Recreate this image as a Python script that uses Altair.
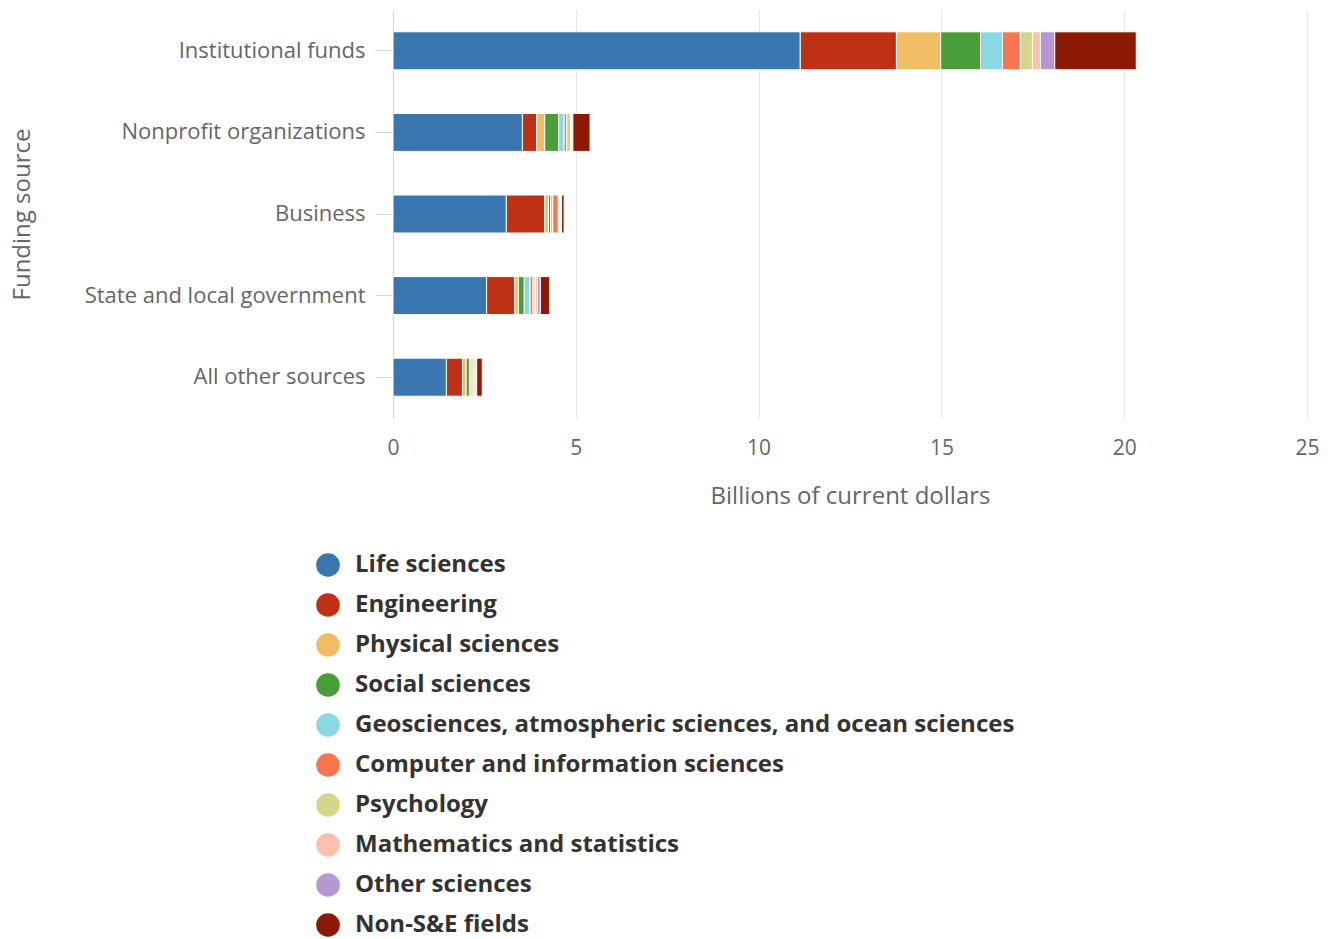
import altair as alt
import pandas as pd

sources = ["Institutional funds", "Nonprofit organizations", "Business",
           "State and local government", "All other sources"]
fields = ["Life sciences", "Engineering", "Physical sciences", "Social sciences",
          "Geosciences, atmospheric sciences, and ocean sciences",
          "Computer and information sciences", "Psychology",
          "Mathematics and statistics", "Other sciences", "Non-S&E fields"]
colors = ["#3a76af", "#bf3115", "#f0bc64", "#4a9e39", "#8ad8e2",
          "#f5764f", "#d4d68a", "#fbc1ad", "#b896d3", "#8a1a02"]

life = [11.14, 3.54, 3.10, 2.56, 1.46]
eng = [2.63, 0.39, 1.05, 0.77, 0.44]
phys = [1.21, 0.22, 0.10, 0.10, 0.10]
social = [1.09, 0.38, 0.06, 0.16, 0.09]
geo = [0.60, 0.15, 0.06, 0.16, 0.02]
comp = [0.49, 0.07, 0.15, 0.08, 0.05]
psych = [0.33, 0.11, 0.03, 0.06, 0.05]
math = [0.22, 0.03, 0.03, 0.06, 0.04]
other = [0.39, 0.03, 0.03, 0.08, 0.04]
nonse = [2.23, 0.47, 0.07, 0.26, 0.15]

series = [life, eng, phys, social, geo, comp, psych, math, other, nonse]
rows = []
for fi, (f, vals) in enumerate(zip(fields, series)):
    for s, v in zip(sources, vals):
        rows.append({"source": s, "field": f, "value": v, "order": fi})
df = pd.DataFrame(rows)

FONT = "Open Sans"

chart = alt.Chart(df).mark_bar(stroke="white", strokeWidth=1, size=38).encode(
    y=alt.Y("source:N", sort=sources,
            scale=alt.Scale(paddingInner=0.0, paddingOuter=0.0),
            axis=alt.Axis(title="Funding source", labelFont=FONT, labelFontSize=22,
                          labelColor="#666666", titleFont=FONT, titleFontSize=24,
                          titleFontWeight="normal", titleColor="#666666",
                          domainColor="#ccd6eb", tickColor="#ccd6eb", tickSize=18,
                          labelPadding=10, titleX=-359, grid=False, labelLimit=400)),
    x=alt.X("value:Q", stack="zero",
            scale=alt.Scale(domain=[0, 25], nice=False),
            axis=alt.Axis(title="Billions of current dollars", values=[0, 5, 10, 15, 20, 25],
                          labelFont=FONT, labelFontSize=21, labelColor="#666666",
                          titleFont=FONT, titleFontSize=24, titleFontWeight="normal",
                          titleColor="#666666", domain=False, ticks=False, labelFlush=False,
                          gridColor="#e6e6e6", labelPadding=19, titlePadding=26)),
    color=alt.Color("field:N", sort=fields,
                    scale=alt.Scale(domain=fields, range=colors),
                    legend=alt.Legend(title=None, orient="none", legendX=-77, legendY=543,
                                      direction="vertical", symbolType="circle",
                                      symbolSize=560, symbolStrokeWidth=0,
                                      labelFont=FONT, labelFontSize=24, labelFontWeight="bold",
                                      labelColor="#333333", rowPadding=16, labelOffset=15,
                                      padding=0, labelLimit=900)),
    order=alt.Order("order:Q", sort="ascending"),
).properties(
    width=914, height=408,
    autosize=alt.AutoSizeParams(type="none"),
    padding={"left": 393, "top": 10, "right": 23, "bottom": 521},
).configure_view(stroke=None)

chart.save("out.html", embed_options={"renderer": "svg", "actions": False})
